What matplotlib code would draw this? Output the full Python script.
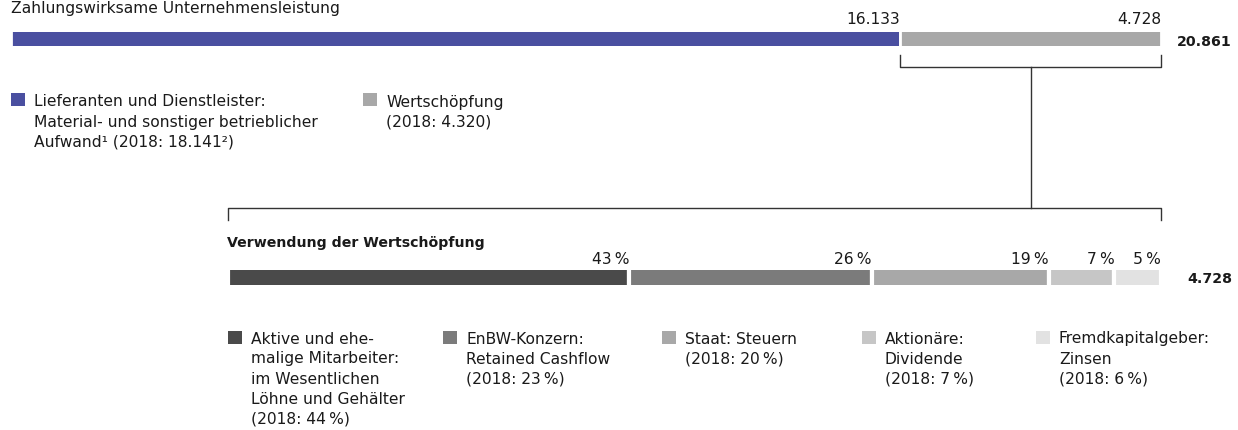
import matplotlib.pyplot as plt
import matplotlib.transforms as mtransforms
import numpy as np

# Zahlungswirksame Unternehmensleistung (Mio. EUR)
top_labels = ["16.133", "4.728"]
top_values = [16133, 4728]
top_total = "20.861"
top_colors = ["#4a4fa0", "#a8a8a8"]
top_legend = [
    "Lieferanten und Dienstleister:\nMaterial- und sonstiger betrieblicher\nAufwand¹ (2018: 18.141²)",
    "Wertschöpfung\n(2018: 4.320)",
]

# Verwendung der Wertschöpfung (%)
use_values = [43, 26, 19, 7, 5]
use_total = "4.728"
use_colors = ["#4a4a4a", "#7b7b7b", "#a8a8a8", "#c6c6c6", "#e2e2e2"]
use_legend = [
    "Aktive und ehe-\nmalige Mitarbeiter:\nim Wesentlichen\nLöhne und Gehälter\n(2018: 44\u2009%)",
    "EnBW-Konzern:\nRetained Cashflow\n(2018: 23\u2009%)",
    "Staat: Steuern\n(2018: 20\u2009%)",
    "Aktionäre:\nDividende\n(2018: 7\u2009%)",
    "Fremdkapitalgeber:\nZinsen\n(2018: 6\u2009%)",
]

plt.rcParams['font.family'] = ['DejaVu Sans']
FS = 11.2
FS_B = 10.2
TXT = "#1a1a1a"
LINE = "#333333"

W, H = 1238, 430
fig = plt.figure(figsize=(W / 100, H / 100), dpi=100)

# overlay in pixel coordinates for texts and brackets
ov = fig.add_axes([0, 0, 1, 1], zorder=0)
ov.set_xlim(0, W)
ov.set_ylim(H, 0)
ov.axis('off')


def pix_axes(x0, y0, x1, y1):
    a = fig.add_axes([x0 / W, 1 - y1 / H, (x1 - x0) / W, (y1 - y0) / H], zorder=1)
    a.axis('off')
    a.set_ylim(-0.5, 0.5)
    return a


def lines(x, y, text, step=20):
    # one text per line so the baselines sit on a 20 px grid
    for i, ln in enumerate(text.split("\n")):
        ov.text(x, y + i * step, ln, ha='left', va='baseline', fontsize=FS, color=TXT)


# ---- top bar ----
ax_top = pix_axes(11, 32, 1161, 46)
ax_top.set_xlim(0, sum(top_values))
left = np.concatenate([[0], np.cumsum(top_values)[:-1]])
# taller than the axes, clipped, so the white edges only show between segments
ax_top.barh(0, top_values, left=left, height=2, color=top_colors,
            edgecolor='white', linewidth=2)
tr_top = mtransforms.blended_transform_factory(ax_top.transData, ov.transData)
for l, v, lab in zip(left, top_values, top_labels):
    ov.text(l + v, 24.3, lab, transform=tr_top, ha='right', va='baseline',
            fontsize=FS, color=TXT)
ov.text(1232, 45.5, top_total, ha='right', va='baseline', fontsize=FS_B,
        fontweight='bold', color=TXT)

ov.text(11, 12.7, "Zahlungswirksame Unternehmensleistung", ha='left',
        va='baseline', fontsize=FS, color=TXT)

# bracket under Wertschöpfung segment
g0, g1 = left[1], left[1] + top_values[1]
ov.plot([g0, g0, g1, g1], [55, 67, 67, 55], transform=tr_top, color=LINE, lw=1)
gm = (g0 + g1) / 2
ov.plot([gm, gm], [67, 208], transform=tr_top, color=LINE, lw=1)

# ---- bottom bar ----
ax_use = pix_axes(228, 270, 1161, 285)
ax_use.set_xlim(0, sum(use_values))
uleft = np.concatenate([[0], np.cumsum(use_values)[:-1]])
ax_use.barh(0, use_values, left=uleft, height=2, color=use_colors,
            edgecolor='white', linewidth=3)
tr_use = mtransforms.blended_transform_factory(ax_use.transData, ov.transData)
for l, v in zip(uleft, use_values):
    ov.text(l + v, 263.5, f"{v}\u2009%", transform=tr_use, ha='right',
            va='baseline', fontsize=FS, color=TXT)
ov.text(1232, 283, use_total, ha='right', va='baseline', fontsize=FS_B,
        fontweight='bold', color=TXT)
ov.text(227, 247, "Verwendung der Wertschöpfung", ha='left', va='baseline',
        fontsize=FS_B, fontweight='bold', color=TXT)

# lower bracket
ov.plot([0, 0, 100, 100], [220, 208, 208, 220], transform=tr_use,
        color=LINE, lw=1)

# ---- legends ----
for x, c, lab in zip([11, 363], top_colors, top_legend):
    ov.add_patch(plt.Rectangle((x, 93), 14, 13, color=c, lw=0))
    lines(x + 23, 106.5, lab)

for x, c, lab in zip([228, 443, 662, 862, 1036], use_colors, use_legend):
    ov.add_patch(plt.Rectangle((x, 331), 14, 13, color=c, lw=0))
    lines(x + 23, 343.5, lab)

fig.savefig("out.png", dpi=100)
